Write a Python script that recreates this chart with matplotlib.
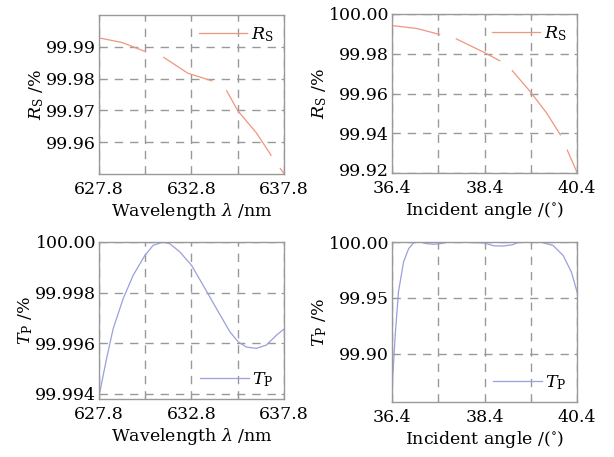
import numpy as np
import matplotlib
matplotlib.use("Agg")
import matplotlib.pyplot as plt
from matplotlib.transforms import ScaledTranslation

plt.rcParams["font.family"] = ["DejaVu Serif"]
plt.rcParams["mathtext.fontset"] = "dejavuserif"
plt.rcParams["font.size"] = 12.5

nan = np.nan

# R_s vs wavelength (dashed segments separated by nan)
wl_rs = [627.8, 629.05, 630.3, nan, 631.3, 632.6, 633.9, nan,
         634.7, 635.3, 636.3, 637.1, nan, 637.6, 637.8]
rs_wl = [99.9928, 99.99135, 99.9885, nan, 99.98667, 99.9817, 99.9793, nan,
         99.9762, 99.9699, 99.9630, 99.9559, nan, 99.9517, 99.9502]

# R_s vs incident angle
ang_rs = [36.40, 36.94, 37.43, nan, 37.79, 38.38, 38.73, nan,
          39.00, 39.38, 39.74, 40.04, nan, 40.19, 40.40]
rs_ang = [99.9942, 99.9927, 99.9897, nan, 99.9875, 99.9808, 99.9765, nan,
          99.9715, 99.9612, 99.9503, 99.9392, nan, 99.9315, 99.9203]

# T_p vs wavelength
wl_tp = [627.85, 628.21, 628.57, 629.11, 629.65, 630.28, 630.73, 631.27,
         631.63, 632.17, 632.80, 633.43, 634.15, 634.87, 635.32, 635.77,
         636.31, 636.85, 637.39, 637.80]
tp_wl = [99.99409, 99.99540, 99.99659, 99.99777, 99.99869, 99.99947,
         99.99987, 100.00000, 99.99993, 99.99961, 99.99908, 99.99829,
         99.99737, 99.99646, 99.99606, 99.99585, 99.99580, 99.99593,
         99.99632, 99.99656]

# T_p vs incident angle
ang_tp = [36.41, 36.47, 36.54, 36.65, 36.76, 36.87, 37.01, 37.15, 37.30,
          37.45, 37.60, 38.00, 38.40, 38.60, 38.80, 39.00, 39.15, 39.30,
          39.60, 39.88, 40.10, 40.28, 40.40]
tp_ang = [99.8754, 99.9169, 99.9555, 99.9822, 99.9941, 99.9994, 100.0,
          99.9985, 99.9980, 99.9985, 100.0, 100.0, 99.9990, 99.9966,
          99.9964, 99.9975, 100.0, 100.0, 100.0, 99.9970, 99.9880,
          99.9730, 99.9555]

wl_ticks = [627.8, 630.3, 632.8, 635.3, 637.8]
wl_labels = ["627.8", "", "632.8", "", "637.8"]
ang_ticks = [36.4, 37.4, 38.4, 39.4, 40.4]
ang_labels = ["36.4", "", "38.4", "", "40.4"]

rs_wl_ticks = [99.96, 99.97, 99.98, 99.99]
rs_wl_labels = ["99.96", "99.97", "99.98", "99.99"]
rs_ang_ticks = [99.92, 99.94, 99.96, 99.98, 100.00]
rs_ang_labels = ["99.92", "99.94", "99.96", "99.98", "100.00"]
tp_wl_ticks = [99.994, 99.996, 99.998, 100.000]
tp_wl_labels = ["99.994", "99.996", "99.998", "100.00"]
tp_ang_ticks = [99.90, 99.95, 100.00]
tp_ang_labels = ["99.90", "99.95", "100.00"]

rs_color = "#f0957e"
tp_color = "#9aa0dc"
W, H = 614, 457

fig = plt.figure(figsize=(W / 100, H / 100), dpi=100)


def make_ax(l, r, t, b):
    return fig.add_axes([l / W, 1 - b / H, (r - l) / W, (b - t) / H])


def style(ax, xt, xl, yt, yl, xlim, ylim, xlabel, ylabel):
    ax.set_xlim(*xlim)
    ax.set_ylim(*ylim)
    ax.set_xticks(xt, xl)
    ax.set_yticks(yt, yl)
    ax.grid(True, color="#999999", linestyle=(0, (6, 5)), linewidth=1.0)
    for s in ax.spines.values():
        s.set_color("#999999")
        s.set_linewidth(1.0)
    ax.tick_params(direction="in", length=2, color="#999999",
                   top=True, right=True)
    ax.tick_params(axis="x", pad=5)
    ax.tick_params(axis="y", pad=2)
    ax.set_xlabel(xlabel, labelpad=2)
    ax.set_ylabel(ylabel, labelpad=0)


ax1 = make_ax(99, 284, 15, 174)
ax1.plot(wl_rs, rs_wl, color=rs_color, lw=0.9, label=r"$R_{\rm S}$")
style(ax1, wl_ticks, wl_labels, rs_wl_ticks, rs_wl_labels,
      (627.8, 637.8), (99.95, 100.0),
      r"Wavelength $\lambda$ /nm", r"$R_{\rm S}$ /%")
ax1.legend(loc="upper right", frameon=False, handlelength=2.8,
           handletextpad=0.2, borderaxespad=0.2)

ax2 = make_ax(392, 577, 14, 173)
ax2.plot(ang_rs, rs_ang, color=rs_color, lw=0.9, label=r"$R_{\rm S}$")
style(ax2, ang_ticks, ang_labels, rs_ang_ticks, rs_ang_labels,
      (36.4, 40.4), (99.92, 100.0),
      r"Incident angle /($^{\circ}$)", r"$R_{\rm S}$ /%")
ax2.legend(loc="upper right", frameon=False, handlelength=2.8,
           handletextpad=0.2, borderaxespad=0.2)
# lowest y label sits just above the first x label, as in the reference
lab = ax2.get_yticklabels()[0]
lab.set_transform(lab.get_transform() + ScaledTranslation(0, 4 / 100, fig.dpi_scale_trans))

ax3 = make_ax(99, 284, 242, 399)
ax3.plot(wl_tp, tp_wl, color=tp_color, lw=0.9, label=r"$T_{\rm P}$")
style(ax3, wl_ticks, wl_labels, tp_wl_ticks, tp_wl_labels,
      (627.8, 637.8), (99.9938, 100.0),
      r"Wavelength $\lambda$ /nm", r"$T_{\rm P}$ /%")
ax3.legend(loc="lower right", frameon=False, handlelength=2.8,
           handletextpad=0.2, borderaxespad=0.2)

ax4 = make_ax(392, 577, 242, 402)
ax4.plot(ang_tp, tp_ang, color=tp_color, lw=0.9, label=r"$T_{\rm P}$")
style(ax4, ang_ticks, ang_labels, tp_ang_ticks, tp_ang_labels,
      (36.4, 40.4), (99.857, 100.0),
      r"Incident angle /($^{\circ}$)", r"$T_{\rm P}$ /%")
ax4.legend(loc="lower right", frameon=False, handlelength=2.8,
           handletextpad=0.2, borderaxespad=0.2)

fig.savefig("out.png", dpi=100)
